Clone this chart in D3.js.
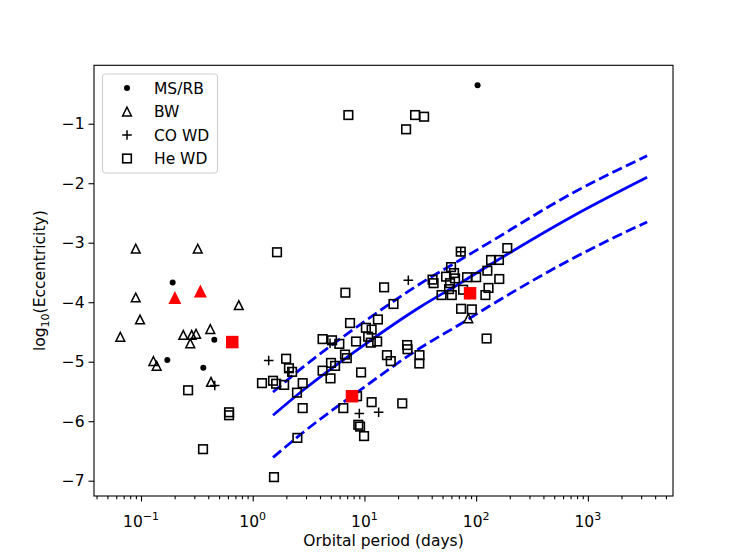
<!DOCTYPE html>
<html>
<head>
<meta charset="utf-8">
<script src="https://cdn.jsdelivr.net/npm/d3@7"></script>
<style>
  body { margin: 0; background: #fff; }
  text { font-family: "DejaVu Sans", sans-serif; }
</style>
</head>
<body>
<svg id="mainsvg" width="747" height="559"></svg>
<script>
// He WD companions (open squares)
const heP = [1.65, 0.264, 0.614, 0.614, 0.359, 1.55, 1.21, 1.52, 1.62, 1.91, 1.99, 2.11, 2.25, 2.80, 2.49,
  2.80, 2.51, 4.22, 5.02, 5.46, 4.97, 4.22, 5.13, 5.96, 8.41, 11.4, 13.0, 10.8, 6.70, 6.95, 9.33, 6.75,
  15.0, 18.2, 7.43, 13.2, 10.3, 11.6, 15.9, 17.2, 24.1, 24.3, 31.1, 31.0, 6.47, 8.59, 11.6, 21.8, 8.81,
  9.14, 9.92, 7.18, 28.4, 34.2, 23.6, 72.8, 190, 136, 160, 59.6, 40.7, 41.6, 53.8, 63.4, 64.7, 82.9, 100,
  126, 161, 58.4, 57.2, 49.0, 60.5, 121, 129, 73.3, 91.4, 124, 76.4];
const heE = [-3.16, -5.48, -5.85, -5.90, -6.47, -6.94, -5.36, -5.32, -5.37, -5.39, -4.95, -5.11, -5.17, -5.36, -5.52,
  -5.78, -6.28, -5.15, -5.02, -5.07, -5.28, -4.62, -4.64, -4.70, -4.66, -4.68, -4.66, -4.58, -4.88, -4.94, -5.18, -3.84,
  -3.75, -4.03, -4.35, -4.29, -4.43, -4.46, -4.89, -4.99, -4.72, -4.79, -4.89, -5.03, -5.78, -5.58, -5.68, -5.70, -6.06,
  -6.09, -6.25, -0.854, -0.854, -0.882, -1.094, -3.15, -3.09, -3.29, -3.29, -3.41, -3.62, -3.68, -3.57, -3.51, -3.60, -3.58, -3.58,
  -3.47, -3.61, -3.68, -3.78, -3.88, -3.88, -3.88, -3.76, -4.11, -4.12, -4.61, -3.79];

// CO WD companions (plus)
const coP = [1.39, 0.457, 24.7, 4.92, 9.0, 13.4, 72.8, 2.11];
const coE = [-4.98, -5.40, -3.63, -4.69, -5.87, -5.85, -3.15, -5.17];

// black widows (open triangles)
const bwP = [0.0897, 0.322, 0.0897, 0.098, 0.0653, 0.750, 0.417, 0.239, 0.284, 0.311, 0.276, 0.129, 0.138, 0.423, 85.1];
const bwE = [-3.10, -3.10, -3.92, -4.29, -4.58, -4.05, -4.45, -4.55, -4.55, -4.53, -4.69, -4.99, -5.07, -5.34, -4.27];

// MS / redbacks (dots)
const msP = [103, 0.192, 0.453, 0.172, 0.361];
const msE = [-0.355, -3.67, -4.63, -4.97, -5.10];

// highlighted systems
const redTriP = [0.201, 0.340];
const redTriE = [-3.92, -3.81];
const redSqP = [0.656, 7.74, 88.2];
const redSqE = [-4.67, -5.58, -3.85];

// relation and its spread
const fitP = [1.52, 2.82, 9.9, 31.5, 71.8, 133, 738, 3390];
const fitMid = [-5.90, -5.48, -4.72, -4.08, -3.68, -3.37, -2.55, -1.90];
const fitHi = [-5.51, -5.09, -4.33, -3.69, -3.29, -2.99, -2.16, -1.54];
const fitLo = [-6.61, -6.19, -5.43, -4.77, -4.37, -4.06, -3.26, -2.65];

const yTicks = [-7, -6, -5, -4, -3, -2, -1];
const xTickExps = [-1, 0, 1, 2, 3];
const legendLabels = ['MS/RB', 'BW', 'CO WD', 'He WD'];

const svg = d3.select('#mainsvg');
const margin = { left: 94, right: 673, top: 65.3, bottom: 496 };
const fs = 15.5;

const xScale = d3.scaleLog().domain([0.03795, 5781]).range([margin.left, margin.right]);
const yScale = d3.scaleLinear().domain([-7.257, -0.018]).range([margin.bottom, margin.top]);

const zip = (a, b) => a.map((v, i) => [v, b[i]]);
const fmtMinus = v => String(v).replace('-', '\u2212');

// axes
const majors = xTickExps.map(e => Math.pow(10, e));
const minors = [];
for (let e = -2; e <= 3; e++) {
  for (let k = 2; k <= 9; k++) {
    const v = k * Math.pow(10, e);
    if (v > 0.03795 && v < 5781) minors.push(v);
  }
}

const xAxis = d3.axisBottom(xScale).tickValues(majors).tickSize(5.5).tickFormat('');
const gx = svg.append('g').attr('transform', `translate(0, ${margin.bottom})`).call(xAxis);
const xMinor = d3.axisBottom(xScale).tickValues(minors).tickSize(3.2).tickFormat('');
const gxm = svg.append('g').attr('transform', `translate(0, ${margin.bottom})`).call(xMinor);
const yAxis = d3.axisLeft(yScale).tickValues(yTicks).tickSize(5.5).tickFormat(fmtMinus).tickPadding(4);
const gy = svg.append('g').attr('transform', `translate(${margin.left}, 0)`).call(yAxis);

[gx, gxm, gy].forEach(g => {
  g.select('.domain').remove();
  g.selectAll('line').attr('stroke', '#000').attr('stroke-width', 1.1);
});
gy.selectAll('text').attr('font-size', fs).attr('fill', '#000')
  .attr('font-family', '"DejaVu Sans", sans-serif');

// x tick labels as 10^n
xTickExps.forEach(e => {
  const t = svg.append('text')
    .attr('x', xScale(Math.pow(10, e)))
    .attr('y', 527)
    .attr('text-anchor', 'middle')
    .attr('font-size', fs);
  t.append('tspan').text('10');
  t.append('tspan').text(fmtMinus(e)).attr('font-size', 11).attr('dy', -7.5);
});

// frame
svg.append('rect')
  .attr('x', margin.left).attr('y', margin.top)
  .attr('width', margin.right - margin.left).attr('height', margin.bottom - margin.top)
  .attr('fill', 'none').attr('stroke', '#000').attr('stroke-width', 1.1);

// labels
svg.append('text').text('Orbital period (days)')
  .attr('x', (margin.left + margin.right) / 2).attr('y', 546)
  .attr('text-anchor', 'middle').attr('font-size', fs);

const yl = svg.append('text')
  .attr('transform', `translate(45, ${(margin.top + margin.bottom) / 2}) rotate(-90)`)
  .attr('text-anchor', 'middle').attr('font-size', fs);
yl.append('tspan').text('log');
yl.append('tspan').text('10').attr('font-size', 11).attr('dy', 4);
yl.append('tspan').text('(Eccentricity)').attr('dy', -4);

// fit curves
const line = d3.line().x(d => xScale(d[0])).y(d => yScale(d[1])).curve(d3.curveMonotoneX);
const plot = svg.append('g');
plot.append('path').datum(zip(fitP, fitMid)).attr('d', line)
  .attr('fill', 'none').attr('stroke', '#0000ff').attr('stroke-width', 2.8);
[fitHi, fitLo].forEach(arr => {
  plot.append('path').datum(zip(fitP, arr)).attr('d', line)
    .attr('fill', 'none').attr('stroke', '#0000ff').attr('stroke-width', 2.8)
    .attr('stroke-dasharray', '10.5,4.5');
});

// marker helpers
const triPath = (cx, cy, h) => `M${cx},${cy - h}L${cx - h},${cy + h}L${cx + h},${cy + h}Z`;

const drawSquares = (g, pts, s, fill, stroke) => g.selectAll(null).data(pts).enter().append('rect')
  .attr('x', d => xScale(d[0]) - s / 2).attr('y', d => yScale(d[1]) - s / 2)
  .attr('width', s).attr('height', s)
  .attr('fill', fill).attr('stroke', stroke).attr('stroke-width', 1.6);

drawSquares(plot, zip(heP, heE), 8.6, 'none', '#000');

plot.selectAll(null).data(zip(coP, coE)).enter().append('path')
  .attr('d', d => {
    const cx = xScale(d[0]), cy = yScale(d[1]);
    return `M${cx - 4.8},${cy}H${cx + 4.8}M${cx},${cy - 4.8}V${cy + 4.8}`;
  })
  .attr('stroke', '#000').attr('stroke-width', 1.5);

plot.selectAll(null).data(zip(bwP, bwE)).enter().append('path')
  .attr('d', d => triPath(xScale(d[0]), yScale(d[1]), 4.4))
  .attr('fill', 'none').attr('stroke', '#000').attr('stroke-width', 1.5);

plot.selectAll(null).data(zip(msP, msE)).enter().append('circle')
  .attr('cx', d => xScale(d[0])).attr('cy', d => yScale(d[1])).attr('r', 3);

plot.selectAll(null).data(zip(redTriP, redTriE)).enter().append('path')
  .attr('d', d => triPath(xScale(d[0]), yScale(d[1]), 6.5))
  .attr('fill', '#ff0000');

drawSquares(plot, zip(redSqP, redSqE), 12.5, '#ff0000', 'none');

// legend
const lg = svg.append('g');
lg.append('rect').attr('x', 102.5).attr('y', 74).attr('width', 115).attr('height', 99)
  .attr('rx', 3).attr('fill', '#fff').attr('fill-opacity', 0.8)
  .attr('stroke', '#cccccc').attr('stroke-width', 1);
legendLabels.forEach((lab, i) => {
  const cy = 88 + i * 23.5;
  const cx = 127;
  if (i === 0) lg.append('circle').attr('cx', cx).attr('cy', cy).attr('r', 3);
  if (i === 1) lg.append('path').attr('d', triPath(cx, cy, 4.4)).attr('fill', 'none')
    .attr('stroke', '#000').attr('stroke-width', 1.5);
  if (i === 2) lg.append('path').attr('d', `M${cx - 4.8},${cy}H${cx + 4.8}M${cx},${cy - 4.8}V${cy + 4.8}`)
    .attr('stroke', '#000').attr('stroke-width', 1.5);
  if (i === 3) lg.append('rect').attr('x', cx - 4.3).attr('y', cy - 4.3).attr('width', 8.6).attr('height', 8.6)
    .attr('fill', 'none').attr('stroke', '#000').attr('stroke-width', 1.6);
  lg.append('text').text(lab).attr('x', 154).attr('y', cy + 5.5).attr('font-size', fs);
});
</script>
</body>
</html>
